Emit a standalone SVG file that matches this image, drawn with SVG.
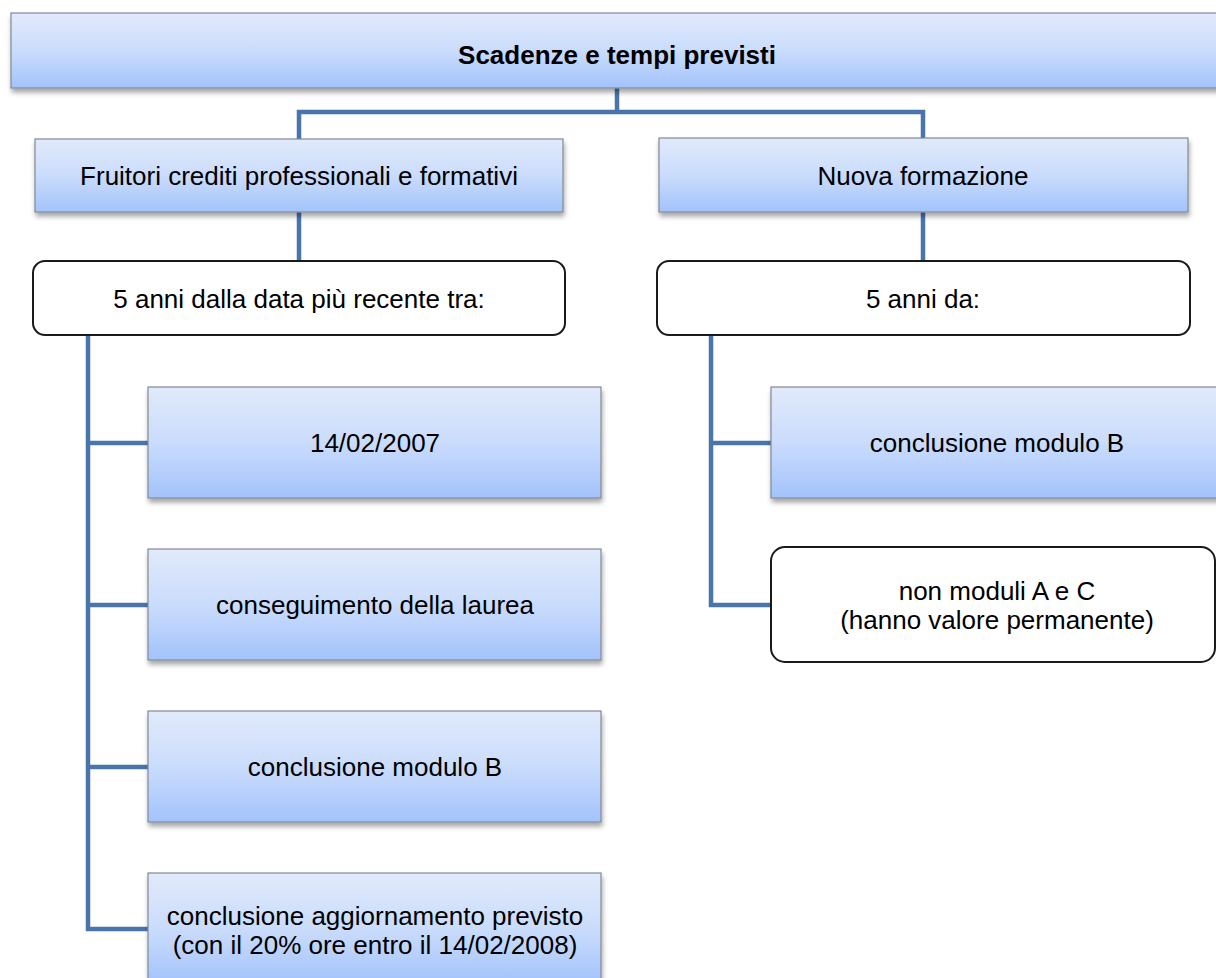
<svg xmlns="http://www.w3.org/2000/svg" width="1216" height="978" viewBox="0 0 1216 978">
  <defs>
    <linearGradient id="boxFill" x1="0" y1="0" x2="0" y2="1">
      <stop offset="0" stop-color="#e1eafb"/>
      <stop offset="0.5" stop-color="#cadcfc"/>
      <stop offset="1" stop-color="#a3c3fb"/>
    </linearGradient>
    <filter id="shadow" x="-5%" y="-10%" width="110%" height="130%">
      <feGaussianBlur in="SourceAlpha" stdDeviation="2.5"/>
      <feOffset dx="1" dy="4" result="off"/>
      <feComponentTransfer><feFuncA type="linear" slope="0.35"/></feComponentTransfer>
      <feMerge><feMergeNode/><feMergeNode in="SourceGraphic"/></feMerge>
    </filter>
  </defs>
  <style>
    .box { fill: url(#boxFill); stroke: #808a96; stroke-width: 1.2; filter: url(#shadow); }
    .rbox { fill: #ffffff; stroke: #1a1a1a; stroke-width: 2; }
    .conn { fill: none; stroke: #4a75ab; stroke-width: 4.5; stroke-linejoin: miter; }
    .t { font-family: "Liberation Sans", Arial, sans-serif; font-size: 26px; fill: #000; text-anchor: middle; }
    .title { font-weight: bold; }
  </style>

  <rect width="1216" height="978" fill="#ffffff"/>

  <!-- connectors -->
  <g id="connectors">
    <path class="conn" d="M617,88 V112 M299,139 V112 H923 V139"/>
    <path class="conn" d="M299,212 V261"/>
    <path class="conn" d="M923,212 V261"/>
    <path class="conn" d="M88,335 V929 H148 M88,443 H148 M88,605 H148 M88,767 H148"/>
    <path class="conn" d="M711,335 V605 H771 M711,443 H771"/>
  </g>

  <g id="root">
    <rect class="box" x="11" y="13" width="1212" height="75"/>
    <text class="t title" x="617" y="64">Scadenze e tempi previsti</text>
  </g>

  <g id="fruitori">
    <rect class="box" x="35" y="139" width="528" height="73"/>
    <text class="t" x="299" y="185">Fruitori crediti professionali e formativi</text>
  </g>

  <g id="nuova">
    <rect class="box" x="659" y="138" width="529" height="74"/>
    <text class="t" x="923" y="185">Nuova formazione</text>
  </g>

  <g id="anni-tra">
    <rect class="rbox" x="33" y="261" width="532" height="74" rx="12"/>
    <text class="t" x="299" y="308">5 anni dalla data più recente tra:</text>
  </g>

  <g id="anni-da">
    <rect class="rbox" x="657" y="261" width="533" height="74" rx="12"/>
    <text class="t" x="923" y="308">5 anni da:</text>
  </g>

  <g id="data-2007">
    <rect class="box" x="148" y="387" width="453" height="111"/>
    <text class="t" x="375" y="452">14/02/2007</text>
  </g>

  <g id="laurea">
    <rect class="box" x="148" y="549" width="453" height="111"/>
    <text class="t" x="375" y="614">conseguimento della laurea</text>
  </g>

  <g id="modulo-b-left">
    <rect class="box" x="148" y="711" width="453" height="111"/>
    <text class="t" x="375" y="776">conclusione modulo B</text>
  </g>

  <g id="aggiornamento">
    <rect class="box" x="148" y="873" width="453" height="111"/>
    <text class="t" x="375" y="925">conclusione aggiornamento previsto</text>
    <text class="t" x="375" y="954">(con il 20% ore entro il 14/02/2008)</text>
  </g>

  <g id="modulo-b-right">
    <rect class="box" x="771" y="387" width="453" height="111"/>
    <text class="t" x="997" y="452">conclusione modulo B</text>
  </g>

  <g id="moduli-ac">
    <rect class="rbox" x="771" y="547" width="444" height="115" rx="14"/>
    <text class="t" x="997" y="600">non moduli A e C</text>
    <text class="t" x="997" y="629">(hanno valore permanente)</text>
  </g>
</svg>
